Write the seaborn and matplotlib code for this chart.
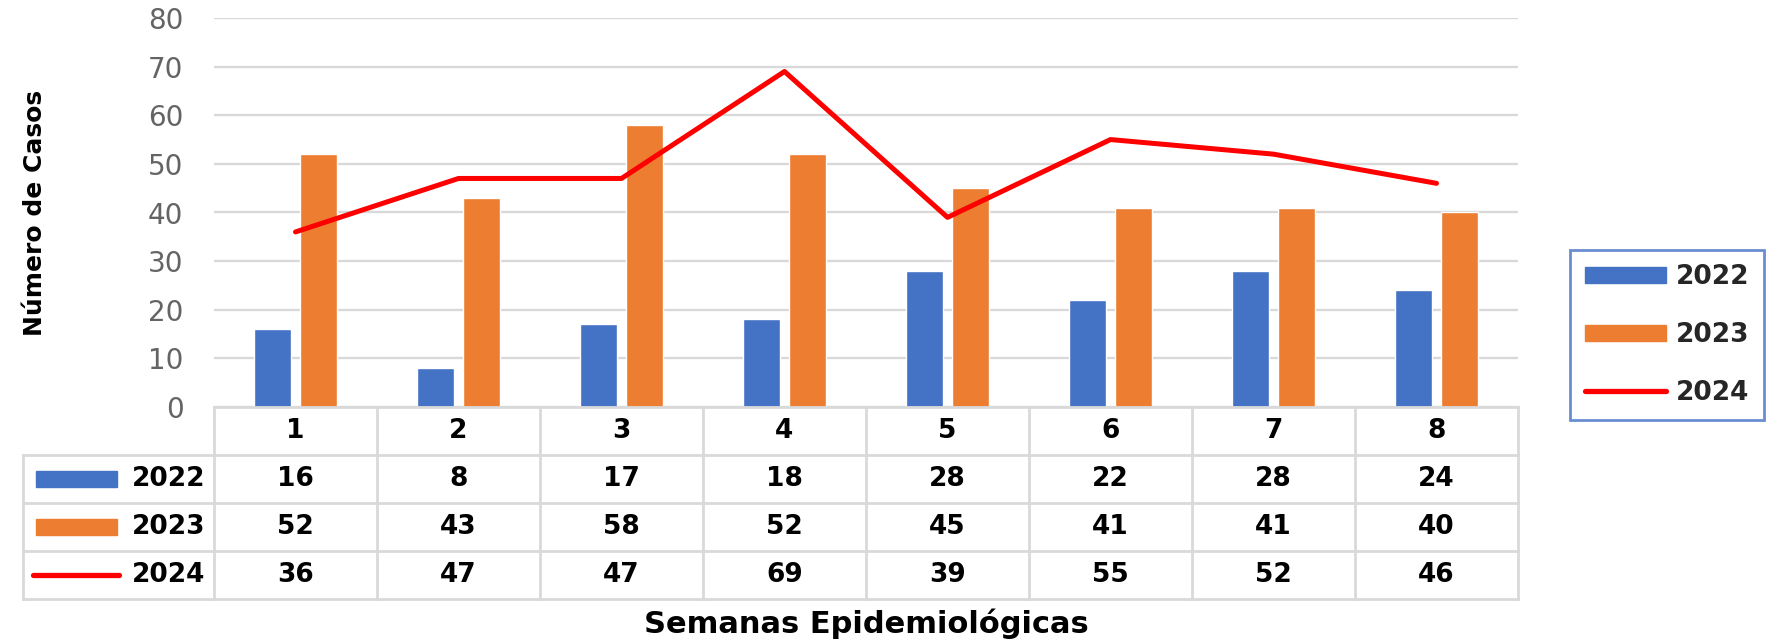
import numpy as np
import pandas as pd
import matplotlib
matplotlib.use("Agg")
import matplotlib.pyplot as plt
import seaborn as sns
from matplotlib.patches import Patch, Rectangle
from matplotlib.lines import Line2D

# ---- data ----
weeks = ["1", "2", "3", "4", "5", "6", "7", "8"]
cases_2022 = [16, 8, 17, 18, 28, 22, 28, 24]
cases_2023 = [52, 43, 58, 52, 45, 41, 41, 40]
cases_2024 = [36, 47, 47, 69, 39, 55, 52, 46]
years = ["2022", "2023", "2024"]
yticks = [0, 10, 20, 30, 40, 50, 60, 70, 80]
ylabel = "Número de Casos"
xlabel = "Semanas Epidemiológicas"

c22, c23, c24 = "#4472C4", "#ED7D31", "#FF0000"
grid_c = "#d9d9d9"

sns.set_theme(style="white")
plt.rcParams["font.family"] = ["DejaVu Sans"]

W, H = 1783, 643
fig = plt.figure(figsize=(W / 100, H / 100), dpi=100)


def fx(px):
    return px / W


def fy(py):
    return 1 - py / H


L, R, T, B = 214, 1518, 18, 407
ax = fig.add_axes([fx(L), fy(B), fx(R - L), fy(T) - fy(B)])

bars = pd.DataFrame({
    "week": weeks * 2,
    "year": [years[0]] * len(weeks) + [years[1]] * len(weeks),
    "cases": cases_2022 + cases_2023,
})
sns.barplot(data=bars, x="week", y="cases", hue="year", order=weeks,
            palette=[c22, c23], width=0.57, gap=0.2, saturation=1,
            legend=False, ax=ax, zorder=2)
line = pd.DataFrame({"pos": np.arange(len(weeks)), "cases": cases_2024})
sns.lineplot(data=line, x="pos", y="cases", color=c24, lw=3.6, ax=ax,
             legend=False, zorder=3, solid_joinstyle="round",
             solid_capstyle="round")

ax.set_xlim(-0.5, len(weeks) - 0.5)
ax.set_ylim(yticks[0], yticks[-1])
ax.set_yticks(yticks)
ax.set_yticklabels([str(v) for v in yticks])
ax.tick_params(axis="y", length=0, pad=22, labelsize=20, labelcolor="#646464")
ax.set_xticks([])
ax.set_xlabel("")
ax.set_ylabel(ylabel, fontsize=18, fontweight="bold", color="black")
ax.yaxis.set_label_coords(-0.128, 0.5)
ax.yaxis.grid(True, color=grid_c, lw=1.7)
ax.set_axisbelow(True)
for s in ax.spines.values():
    s.set_visible(False)

# ---- data table ----
TL = 23
tax = fig.add_axes([fx(TL), fy(599), fx(R - TL), fy(B) - fy(599)])
col_w = (R - L) / len(weeks)
lab_w = (L - TL) / col_w
x0 = -0.5 - lab_w
tax.set_xlim(x0, len(weeks) - 0.5)
tax.set_ylim(4, 0)
tax.axis("off")
gk = dict(color=grid_c, lw=2.0, clip_on=False, solid_capstyle="projecting")
tax.plot([-0.5, len(weeks) - 0.5], [0, 0], **gk)
for r in range(1, 5):
    tax.plot([x0, len(weeks) - 0.5], [r, r], **gk)
for k in range(len(weeks) + 1):
    tax.plot([k - 0.5, k - 0.5], [0, 4], **gk)
tax.plot([x0, x0], [1, 4], **gk)

tk = dict(ha="center", va="center", fontsize=19, fontweight="bold", color="black")
for i, w in enumerate(weeks):
    tax.text(i, 0.5, w, **tk)
for r, vals in enumerate([cases_2022, cases_2023, cases_2024], start=1):
    for i, v in enumerate(vals):
        tax.text(i, r + 0.5, str(v), **tk)

# row legend keys
px = 1 / col_w
sw_x = x0 + (36 - TL) * px
sw_w = 81 * px
for r, c in [(1, c22), (2, c23)]:
    tax.add_patch(Rectangle((sw_x, r + 0.5 - 0.17), sw_w, 0.34, color=c,
                            clip_on=False))
tax.plot([x0 + (33 - TL) * px, x0 + (119 - TL) * px], [3.5, 3.5], color=c24,
         lw=3.8, solid_capstyle="round", clip_on=False)
for r, y in enumerate(years, start=1):
    tax.text(-0.5 - 9 * px, r + 0.5, y, ha="right", va="center",
             fontsize=19, fontweight="bold", color="black")

# ---- legend ----
handles = [Patch(color=c22), Patch(color=c23),
           Line2D([], [], color=c24, lw=3.8, solid_capstyle="round")]
leg = fig.legend(handles, years, loc="center",
                 bbox_to_anchor=(fx(1667), fy(335)),
                 prop=dict(size=19, weight="bold"), frameon=True,
                 fancybox=False, edgecolor=c22, handlelength=3.07,
                 handleheight=0.57, handletextpad=0.38, labelspacing=1.2,
                 borderpad=0.55)
leg.get_frame().set_linewidth(2)

fig.text(fx(866), fy(624), xlabel, ha="center", va="center", fontsize=22,
         fontweight="bold", color="black")

fig.savefig("out.png", dpi=100)
